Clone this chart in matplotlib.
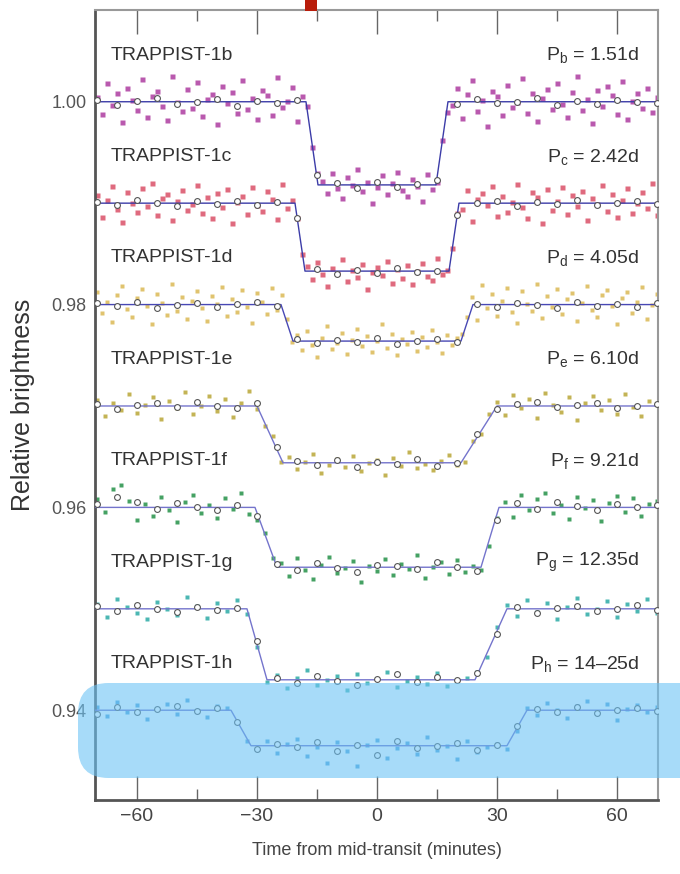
import numpy as np
import matplotlib
matplotlib.use("Agg")
import matplotlib.pyplot as plt
from matplotlib.patches import FancyBboxPatch, Rectangle

plt.rcParams['font.family'] = ['Liberation Sans', 'DejaVu Sans']
plt.rcParams['mathtext.fontset'] = 'custom'
plt.rcParams['mathtext.rm'] = 'Liberation Sans'
plt.rcParams['mathtext.it'] = 'Liberation Sans'

planets = ['b', 'c', 'd', 'e', 'f', 'g', 'h']
periods = ['1.51d', '2.42d', '4.05d', '6.10d', '9.21d', '12.35d', '14\u201325d']
offsets = [0.00, 0.01, 0.02, 0.03, 0.04, 0.05, 0.06]
colors = ['#a8309a', '#d8455e', '#d9b54a', '#b5a02a', '#178a3c', '#1fa5a0', '#2a8fd0']
model_colors = ['#3c3ca8', '#3c3ca8', '#4848b4', '#7474cc', '#7474cc', '#7474cc', '#6a6ac8']
dot_size = [3.6, 3.6, 3.4, 3.2, 3.4, 3.0, 3.0]

# transit model: contact times t1..t4 (minutes) and depth (units of 1e-4)
contacts = [
    (-17.75, -14.75, 14.75, 17.75),
    (-20.5, -18.0, 18.0, 20.5),
    (-24.0, -21.0, 21.0, 24.0),
    (-30.0, -23.5, 21.0, 30.0),
    (-30.5, -25.0, 26.0, 30.5),
    (-32.5, -27.5, 24.5, 32.5),
    (-36.5, -31.5, 32.5, 37.5),
]
depths = [82, 67, 36, 56, 59, 70, 35]

# unbinned photometry, flux - 1 in units of 1e-4, evenly sampled over -70..70 min
b_flux = [5, -12, 18, -3, 9, -20, 14, 2, -8, 22, -15, 6, 11, -4, -18, 25, 0, -9, 13, -6,
          19, -14, 3, 8, -22, 16, -1, 10, -11, 21, -7, 4, -17, 12, 7, -13, 24, -5, 1, 15, -19, 6,
          -4, -45, -70,
          -78, -90, -70, -85, -95, -74, -82, -66, -88, -79, -100, -84, -72, -91, -80, -69, -87,
          -93, -76, -83, -98, -71, -86,
          -79, -38, -10,
          -3, 14, -16, 8, 21, -9, 2, -24, 11, 6, -13, 17, -5, 0, 23, -11, 9, -19, 4, 13,
          -7, 18, -2, -15, 10, 25, -8, 3, -21, 12, -4, 16, 7, -12, 20, -17, 1, 9, -6, 14, -10, 5]
c_flux = [8, -14, 3, 17, -6, -19, 11, 0, -9, 15, -3, 20, -12, 5, 9, -17, 2, 13, -7, -1,
          18, -10, 6, -15, 10, -4, 14, -20, 1, 7, -11, 16, -2, -8, 12, 4, -16, 19, -5, 3,
          -15, -50,
          -62, -75, -58, -70, -82, -64, -69, -55, -77, -66, -73, -60, -85, -68, -63, -71, -57,
          -79, -65, -74, -61, -80, -67, -59, -72, -76, -54, -70, -66,
          -44, -10,
          -6, 13, -18, 4, 10, -2, 17, -13, 7, -9, 1, 19, -4, -15, 11, 6, -20, 14, -7, 2,
          16, -11, 8, -3, 12, -17, 5, -1, 18, -8, 9, -14, 3, 15, -10, 0, 11, -5, 20, -12]
d_flux = [12, -8, 3, -17, 9, 18, -4, -12, 6, 15, -1, -19, 10, 2, -10, 20, -6, 7, -14, 4,
          13, -3, -16, 8, 1, 17, -11, 5, -7, 14, -2, -18, 11, 3, -9, 16, -5, 9,
          -14, -37,
          -30, -45, -26, -40, -52, -33, -21, -44, -38, -28, -49, -35, -24, -41, -31, -47, -36,
          -19, -43, -29, -50, -34, -39, -27, -46, -32, -42, -25, -37, -48, -30, -40, -33,
          -29, -12,
          7, -15, 19, -3, 10, -11, 4, 16, -7, -18, 13, 1, -6, 20, -13, 8, -2, 15, -9, 5,
          11, -16, 2, 18, -5, -12, 9, 14, -1, -19, 6, 12, -8, 3, 17, -14, 0, 10]
e_flux = [6, -10, 3, -4, 12, -7, 1, 9, -13, 5, -2, 14, -8, 0, 10, -5, 7, -11, 3, 15, -3,
          -20, -30, -55,
          -50, -62, -55, -47, -66, -58, -52, -60, -49, -64, -56, -53, -68, -51, -59, -45, -61,
          -57, -63, -54, -48, -58,
          -55, -35, -28, -8,
          4, -9, 11, -2, 7, -12, 13, 1, -6, 9, -14, 3, 10, -4, 6, -8, 12, -1, -10, 5, 2]
f_flux = [8, -5, 18, 22, 6, -12, 3, -8, 10, -3, -14, 5, 12, -6, 2, -10, 9, -2, 14, -7,
          -12, -25, -50,
          -55, -68, -50, -62, -71, -57, -49, -65, -60, -53, -74, -58, -63, -51, -67, -56, -61,
          -47, -70, -59, -54, -66, -52, -64, -58, -62,
          -38, -10,
          5, -9, 12, -3, 8, 14, -6, 2, -11, 10, -1, 7, -13, 4, 11, -5, 9, -8, 3, 6]
g_flux = [5, -8, 10, 2, -4, -10, 7, 0, -6, 12, 3, -9, 6, -2, 9, -5,
          -38,
          -72, -65, -78, -68, -60, -75, -70, -66, -80, -64, -73, -69, -62, -77, -71, -67, -74,
          -63, -76, -70, -68,
          -62, -48, -18,
          4, -7, 9, -3, 6, -10, 2, 11, -5, 0, 8, -8, 5, -2, 10, -4]
h_flux = [3, -6, 8, -2, 5, -9, 1, 6, -4, 10, -1, -7, 4, 2,
          -12, -30,
          -38, -30, -42, -33, -28, -45, -36, -52, -31, -40, -55, -34, -29, -47, -37, -32, -43,
          -26, -39, -35, -48, -30, -41, -36, -33, -38,
          -20,
          2, -5, 7, 0, -8, 4, 9, -3, 6, -10, 1, 5, -2, 3]

# 5-minute bins, flux - 1 in units of 1e-4
b_bin = [2, -3, 1, 4, -2, 0, 3, -4, 1, -1, 2, -72, -80, -85, -79, -84, -81, -77,
         -2, 3, -1, 0, 4, -3, 1, -2, 2, 0, -1]
c_bin = [1, -2, 3, 0, -3, 2, -1, 2, -2, 1, -15, -65, -70, -66, -69, -64, -68, -67, -12,
         0, 2, -3, 1, -1, 3, -2, 0, 2, -1]
d_bin = [2, -1, 3, -3, 0, 2, -2, 1, 3, -1, -34, -38, -35, -37, -33, -39, -36, -34, -37,
         1, -2, 2, 0, -3, 3, -1, 1, -2, 2]
e_bin = [2, -3, 1, 3, -1, 4, 0, -2, 3, -40, -54, -58, -53, -60, -55, -57, -52, -59, -56,
         -28, -3, 2, 4, -1, 1, 3, -2, 0, 2]
f_bin = [3, 10, 5, -2, 4, 0, -3, 2, -8, -56, -62, -55, -60, -64, -57, -58, -61, -54, -59,
         -63, -12, 4, -2, 5, 1, -3, 3, 0, 2]
g_bin = [3, -2, 4, 0, -3, 2, -1, 1, -32, -68, -73, -66, -71, -75, -69, -64, -72, -67, -70,
         -63, -25, 2, -4, 1, 3, -2, 0, 4, -1]
h_bin = [-4, 3, -2, 1, 4, -1, 2, -12, -38, -33, -36, -31, -40, -34, -44, -30, -37, -35,
         -32, -39, -34, -16, 1, -2, 3, -3, 0, 2, -1]

raw = [b_flux, c_flux, d_flux, e_flux, f_flux, g_flux, h_flux]
binned = [b_bin, c_bin, d_bin, e_bin, f_bin, g_bin, h_bin]

fig = plt.figure(figsize=(6.8, 8.74), dpi=100)
ax = fig.add_axes([0.1397, 0.0847, 0.8279, 0.9039])

for k, p in enumerate(planets):
    off = offsets[k]
    fl = np.array(raw[k]) * 1e-4 + 1 - off
    t = np.linspace(-70, 70, len(fl))
    ax.plot(t, fl, 's', ms=dot_size[k], color=colors[k], mec='none', alpha=0.8, zorder=2)

    t1, t2, t3, t4 = contacts[k]
    dep = depths[k] * 1e-4
    mt = [-72, t1, t2, t3, t4, 72]
    mf = np.array([1, 1, 1 - dep, 1 - dep, 1, 1]) - off
    ax.plot(mt, mf, '-', color=model_colors[k], lw=1.0, zorder=3)

    bf = np.array(binned[k]) * 1e-4 + 1 - off
    bt = np.linspace(-70, 70, len(bf))
    ax.plot(bt, bf, 'o', ms=4.2, mfc='white', mec='#555555', mew=0.8, zorder=4)

    ly = 1 - off + 0.0046
    ax.text(-66.5, ly, 'TRAPPIST-1' + p, fontsize=14, color='#333333', va='center', ha='left')
    ax.text(65.5, ly, r'P$_{\rm %s}$ = %s' % (p, periods[k]), fontsize=14, color='#333333',
            va='center', ha='right')

ax.set_xlim(-70.5, 70.25)
ax.set_ylim(0.93115, 1.00905)
ax.set_xticks([-60, -30, 0, 30, 60])
ax.set_xticklabels(['\u221260', '\u221230', '0', '30', '60'])
ax.set_xticks([-45, -15, 15, 45], minor=True)
ax.set_yticks([1.00, 0.98, 0.96, 0.94])
ax.set_yticklabels(['1.00', '0.98', '0.96', '0.94'])
ax.tick_params(axis='x', which='major', direction='in', top=True, length=17, width=1,
               color='#666666', labelsize=14, labelcolor='#444444', pad=6)
ax.tick_params(axis='x', which='minor', direction='in', top=True, length=8, width=1,
               color='#666666')
ax.tick_params(axis='y', length=0, labelsize=13, labelcolor='#555555', pad=6)

for s in ['left', 'bottom']:
    ax.spines[s].set_linewidth(2)
    ax.spines[s].set_color('#555555')
for s in ['top', 'right']:
    ax.spines[s].set_linewidth(1.5)
    ax.spines[s].set_color('#999999')

ax.set_xlabel('Time from mid-transit (minutes)', fontsize=13, color='#444444', labelpad=12)
ax.set_ylabel('Relative brightness', fontsize=18, color='#333333', labelpad=12)

# highlight band over the last light curve, and small marker at the top edge
band = FancyBboxPatch((78 / 680, 1 - 778 / 874), 640 / 680, 95 / 874,
                      boxstyle='round,pad=0,rounding_size=0.045',
                      transform=fig.transFigure, facecolor='#6cc3f5', edgecolor='none',
                      alpha=0.6, zorder=10, mutation_aspect=680 / 874)
fig.patches.append(band)
fig.patches.append(Rectangle((305 / 680, 1 - 11 / 874), 12 / 680, 11 / 874,
                             transform=fig.transFigure, facecolor='#b81c0a',
                             edgecolor='none', zorder=10))

fig.savefig('out.png', dpi=100)
